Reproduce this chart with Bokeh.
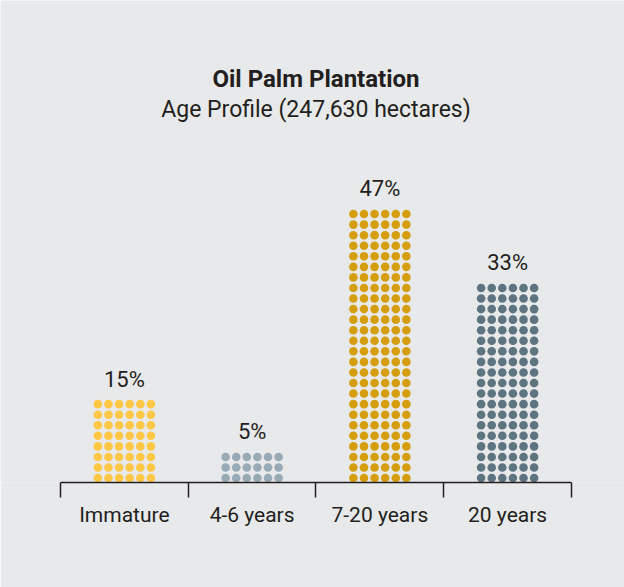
from bokeh.plotting import figure
from bokeh.models import Range1d, LinearAxis, FixedTicker, Label, ColumnDataSource
from bokeh.core.properties import value
from bokeh.embed import file_html
from bokeh.resources import INLINE

# ---- data ----
categories = ["Immature", "4-6 years", "7-20 years", "20 years"]
percentages = [15, 5, 47, 33]
dot_rows = [8, 3, 26, 19]          # rows of dots per column (6 dots per row)
dot_cols = 6
colors = ["#FEC746", "#98AAB5", "#D59E0F", "#5E7480"]
title_text = "Oil Palm Plantation"
subtitle_text = "Age Profile (247,630 hectares)"

# ---- style ----
BG = "#E8E9EA"
TXT = "#231F20"
FONT = "Roboto"
COL_PITCH = 0.083      # x data units between dot columns
ROW_OFF = 0.42         # centre of first row above baseline (row units)

centers = [i + 0.5 for i in range(len(categories))]

xs, ys, cs = [], [], []
for i, (n, col) in enumerate(zip(dot_rows, colors)):
    for r in range(n):
        for c in range(dot_cols):
            xs.append(centers[i] + (c - (dot_cols - 1) / 2) * COL_PITCH)
            ys.append(r + ROW_OFF)
            cs.append(col)
dots = ColumnDataSource(dict(x=xs, y=ys, color=cs))

p = figure(width=624, height=587, output_backend="svg", toolbar_location=None,
           x_range=Range1d(-0.4697, 4.415), y_range=Range1d(0, 45.64),
           x_axis_type=None, y_axis_type=None,
           min_border_left=0, min_border_right=0, min_border_top=0, min_border_bottom=105)
p.background_fill_color = BG
p.border_fill_color = BG
p.outline_line_color = None
p.grid.visible = False

p.scatter("x", "y", source=dots, size=8.6, marker="circle",
          fill_color="color", line_color=None)

lab = ColumnDataSource(dict(x=centers, y=[r + 1.8 for r in dot_rows],
                            t=[f"{v}%" for v in percentages]))
p.text("x", "y", text="t", source=lab, text_align="center", text_baseline="alphabetic",
       text_font=value(FONT), text_font_size="22px", text_color=TXT)

axis = LinearAxis(ticker=FixedTicker(ticks=centers, minor_ticks=list(range(len(categories) + 1))),
                  bounds=(0, len(categories)))
axis.major_label_overrides = {c: n for c, n in zip(centers, categories)}
axis.major_tick_out = 0
axis.major_tick_in = 0
axis.minor_tick_out = 15
axis.minor_tick_in = 0
axis.minor_tick_line_color = TXT
axis.minor_tick_line_width = 1.5
axis.axis_line_color = TXT
axis.axis_line_width = 1.5
axis.major_label_standoff = 5
axis.major_label_text_font = FONT
axis.major_label_text_font_size = "21px"
axis.major_label_text_color = TXT
p.add_layout(axis, "below")

p.add_layout(Label(x=2, y=38.2, text=title_text, text_align="center", text_baseline="alphabetic",
                   text_font=FONT, text_font_style="bold", text_font_size="24px", text_color=TXT))
p.add_layout(Label(x=2, y=35.35, text=subtitle_text, text_align="center", text_baseline="alphabetic",
                   text_font=FONT, text_font_size="23px", text_color=TXT))

open("out.html", "w").write(file_html(p, INLINE))
